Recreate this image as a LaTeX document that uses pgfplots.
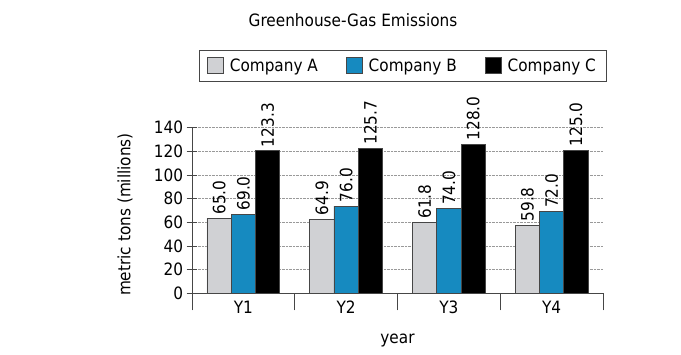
\documentclass[border=0pt]{standalone}
\usepackage{fontspec}
\setmainfont{DejaVu Sans Condensed}
\usepackage{pgfplots}
\pgfplotsset{compat=1.18}
\definecolor{ca}{RGB}{208,209,212}
\definecolor{cb}{RGB}{22,138,192}
\definecolor{edge}{RGB}{70,70,70}
\newcommand\fs{\fontsize{17}{20}\selectfont}
\begin{document}
\begin{tikzpicture}[font=\fs]
\path[use as bounding box] (-192pt,-61.7pt) rectangle (489pt,293.3pt);
\begin{axis}[
  at={(0,0)}, anchor=south west,
  scale only axis, width=411pt, height=165.6pt,
  xmin=-0.5, xmax=3.5, ymin=0, ymax=140,
  clip=false,
  axis x line=bottom, axis y line=left,
  axis line style={-, draw=edge, line width=0.8pt},
  every tick/.style={draw=edge, line width=0.8pt},
  tick align=center,
  major tick length=10.7pt,
  minor tick length=17pt,
  ybar=0pt, bar width=24.3pt,
  xtick={0,1,2,3}, xticklabels={Y1,Y2,Y3,Y4},
  major x tick style={draw=none},
  minor xtick={-0.5,0.5,1.5,2.5,3.5},
  ytick={0,20,...,140},
  /pgf/number format/assume math mode=true,
  ymajorgrids, major grid style={densely dotted, draw=gray!80, line width=0.6pt},
  xticklabel style={anchor=center, yshift=-3pt},
  yticklabel style={anchor=east},
  xlabel={year}, ylabel={metric tons (millions)},
  xlabel style={at={(axis description cs:0.5,0)}, anchor=center, yshift=-47pt},
  ylabel style={at={(axis description cs:0,0.5)}, anchor=center, yshift=67pt, xshift=-4pt},
  title={Greenhouse-Gas Emissions},
  title style={at={(axis description cs:0.5,1)}, anchor=center, xshift=-44.5pt, yshift=101.7pt},
  legend columns=3,
  legend style={at={(axis description cs:0.5,1)}, anchor=south, yshift=46pt, xshift=5pt,
    draw=edge, line width=0.8pt, inner xsep=8pt, inner ysep=6.5pt,
    /tikz/every even column/.append style={column sep=26pt},
    /tikz/every odd column/.append style={column sep=4pt}},
  legend cell align=left,
  legend image code/.code={\draw[#1, draw=edge, line width=0.8pt] (0pt,-8pt) rectangle (16pt,8pt);},
  point meta=explicit symbolic,
  nodes near coords,
  every node near coord/.append style={rotate=90, anchor=west, font=\fs, text=black},
]
\addplot[fill=ca, draw=edge, line width=0.8pt] coordinates {(0,63.4)[65.0] (1,62.8)[64.9] (2,60.0)[61.8] (3,57.7)[59.8]};
\addplot[fill=cb, draw=edge, line width=0.8pt] coordinates {(0,67.0)[69.0] (1,73.8)[76.0] (2,71.5)[74.0] (3,69.0)[72.0]};
\addplot[fill=black, draw=edge, line width=0.8pt] coordinates {(0,120.5)[123.3] (1,122.5)[125.7] (2,126.2)[128.0] (3,121.1)[125.0]};
\legend{Company A, Company B, Company C}
\end{axis}
\end{tikzpicture}
\end{document}
